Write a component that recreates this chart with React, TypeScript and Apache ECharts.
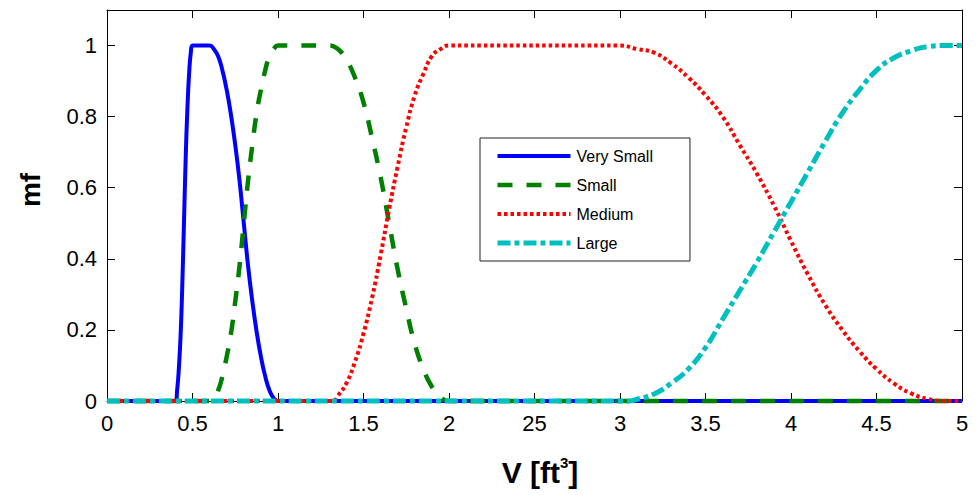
import React, { useEffect, useRef } from "react";
import * as echarts from "echarts";

const FONT = "'Liberation Sans', Arial, Helvetica, sans-serif";

// Ticks along V and the labels printed beneath them
const vTicks = [0, 0.5, 1, 1.5, 2, 2.5, 3, 3.5, 4, 4.5, 5];
const vTickLabels = ["0", "0.5", "1", "1.5", "2", "25", "3", "3.5", "4", "4.5", "5"];

const seriesNames = ["Very Small", "Small", "Medium", "Large"];

// Membership curves as [V, mf]
const verySmall = [
  [0, 0], [0.4, 0], [0.41, 0.03], [0.42, 0.09], [0.43, 0.18], [0.44, 0.32], [0.45, 0.5],
  [0.46, 0.68], [0.47, 0.82], [0.48, 0.92], [0.49, 0.98], [0.5, 1], [0.6, 1], [0.625, 0.99],
  [0.65, 0.97], [0.675, 0.93], [0.7, 0.875], [0.725, 0.805], [0.75, 0.72], [0.775, 0.62],
  [0.8, 0.5], [0.825, 0.38], [0.85, 0.28], [0.875, 0.195], [0.9, 0.125], [0.925, 0.07],
  [0.95, 0.03], [0.975, 0.008], [1.0, 0], [5, 0],
];

const small = [
  [0, 0], [0.6, 0], [0.625, 0.01], [0.65, 0.03], [0.675, 0.07], [0.7, 0.125], [0.725, 0.19],
  [0.75, 0.28], [0.775, 0.38], [0.8, 0.5], [0.825, 0.62], [0.85, 0.72], [0.875, 0.81],
  [0.9, 0.875], [0.925, 0.93], [0.95, 0.97], [0.975, 0.99], [1.0, 1], [1.3, 1], [1.35, 0.99],
  [1.4, 0.96], [1.45, 0.91], [1.5, 0.84], [1.55, 0.74], [1.6, 0.63], [1.65, 0.5], [1.7, 0.37],
  [1.75, 0.26], [1.8, 0.16], [1.85, 0.09], [1.9, 0.04], [1.95, 0.01], [2.0, 0], [5, 0],
];

const medium = [
  [0, 0], [1.32, 0], [1.35, 0.015], [1.4, 0.05], [1.45, 0.11], [1.5, 0.19], [1.55, 0.29],
  [1.6, 0.41], [1.65, 0.54], [1.7, 0.66], [1.75, 0.77], [1.8, 0.86], [1.85, 0.92], [1.9, 0.97],
  [1.95, 0.99], [2.0, 1], [3.0, 1], [3.1, 0.99], [3.2, 0.98], [3.3, 0.95], [3.4, 0.91],
  [3.5, 0.86], [3.6, 0.8], [3.7, 0.72], [3.8, 0.64], [3.9, 0.55], [4.0, 0.45], [4.1, 0.355],
  [4.2, 0.27], [4.3, 0.2], [4.4, 0.14], [4.5, 0.09], [4.6, 0.05], [4.7, 0.022], [4.8, 0.006],
  [4.9, 0], [5, 0],
];

const large = [
  [0, 0], [3.05, 0], [3.1, 0.005], [3.2, 0.02], [3.3, 0.05], [3.4, 0.09], [3.5, 0.15],
  [3.6, 0.23], [3.7, 0.31], [3.8, 0.39], [3.9, 0.475], [4.0, 0.56], [4.1, 0.645], [4.2, 0.73],
  [4.3, 0.81], [4.4, 0.875], [4.5, 0.93], [4.6, 0.965], [4.7, 0.985], [4.8, 0.997], [4.9, 1],
  [5, 1],
];

const curves = [verySmall, small, medium, large];
const colors = ["#0000ff", "#008000", "#ff0000", "#00bfbf"];
const widths = [4, 4.5, 4, 5];
const dashes: (string | number[])[] = ["solid", [15, 14], [3.5, 3], [13, 4, 5, 4]];

export default function App() {
  const ref = useRef<HTMLDivElement>(null);

  useEffect(() => {
    if (!ref.current) return;
    const chart = echarts.init(ref.current, undefined, { renderer: "svg" });

    const tickLabel = (value: number) => {
      const i = vTicks.findIndex((t) => Math.abs(t - value) < 1e-6);
      return i >= 0 ? vTickLabels[i] : "";
    };

    const axisLineStyle = { color: "#000", width: 1 };
    const tickStyle = { inside: true, length: 8, lineStyle: { color: "#000", width: 1 } };

    chart.setOption({
      animation: false,
      backgroundColor: "#ffffff",
      grid: { left: 107, right: 17, top: 10, bottom: 94, containLabel: false },
      xAxis: [
        {
          type: "value",
          min: 0,
          max: 5,
          interval: 0.5,
          position: "bottom",
          axisLine: { show: true, onZero: false, lineStyle: axisLineStyle },
          axisTick: tickStyle,
          splitLine: { show: false },
          axisLabel: {
            formatter: tickLabel,
            color: "#000",
            fontFamily: FONT,
            fontSize: 22,
            margin: 11,
          },
        },
        {
          type: "value",
          min: 0,
          max: 5,
          interval: 0.5,
          position: "top",
          axisLine: { show: true, onZero: false, lineStyle: axisLineStyle },
          axisTick: tickStyle,
          splitLine: { show: false },
          axisLabel: { show: false },
        },
      ],
      yAxis: [
        {
          type: "value",
          min: 0,
          max: 1.1,
          interval: 0.2,
          position: "left",
          axisLine: { show: true, onZero: false, lineStyle: axisLineStyle },
          axisTick: tickStyle,
          splitLine: { show: false },
          axisLabel: {
            color: "#000",
            fontFamily: FONT,
            fontSize: 22,
            margin: 10,
            showMaxLabel: false,
          },
        },
        {
          type: "value",
          min: 0,
          max: 1.1,
          interval: 0.2,
          position: "right",
          axisLine: { show: true, onZero: false, lineStyle: axisLineStyle },
          axisTick: tickStyle,
          splitLine: { show: false },
          axisLabel: { show: false },
        },
      ],
      legend: {
        orient: "vertical",
        left: 480,
        top: 138,
        padding: [9, 37, 9, 15],
        itemWidth: 73,
        itemHeight: 14,
        itemGap: 11,
        backgroundColor: "#ffffff",
        borderColor: "#222",
        borderWidth: 1,
        borderRadius: 0,
        selectedMode: false,
        itemStyle: { color: "rgba(0,0,0,0)", borderColor: "rgba(0,0,0,0)", borderWidth: 0 },
        textStyle: {
          color: "#000",
          fontFamily: FONT,
          fontSize: 16,
          lineHeight: 14,
          padding: [0, 0, 4, 1],
        },
        data: seriesNames.map((name, i) => ({
          name,
          lineStyle: { width: widths[i] },
        })),
      },
      series: curves.map((data, i) => ({
        name: seriesNames[i],
        type: "line",
        data,
        xAxisIndex: 0,
        yAxisIndex: 0,
        symbol: "none",
        showSymbol: false,
        smooth: 0.5,
        clip: false,
        silent: true,
        lineStyle: {
          color: colors[i],
          width: widths[i],
          type: dashes[i],
          cap: "butt",
          join: "round",
        },
        itemStyle: { color: colors[i] },
        emphasis: { disabled: true },
        z: 2 + i,
      })),
      graphic: [
        {
          type: "text",
          x: 30,
          y: 190,
          rotation: Math.PI / 2,
          style: {
            text: "mf",
            fill: "#000",
            font: `bold 28px ${FONT}`,
            textAlign: "center",
            textVerticalAlign: "middle",
          },
        },
        {
          type: "text",
          x: 540,
          y: 472,
          style: {
            text: "V [ft{sup|3}]",
            fill: "#000",
            fontFamily: FONT,
            fontSize: 30,
            fontWeight: "bold",
            lineHeight: 34,
            textAlign: "center",
            textVerticalAlign: "middle",
            rich: {
              sup: {
                fontFamily: FONT,
                fontSize: 15,
                fontWeight: "bold",
                lineHeight: 14,
                verticalAlign: "top",
                fill: "#000",
              },
            },
          },
        },
      ],
    });

    return () => chart.dispose();
  }, []);

  return (
    <div
      ref={ref}
      style={{ position: "absolute", left: 0, top: 0, width: 979, height: 495 }}
    />
  );
}
